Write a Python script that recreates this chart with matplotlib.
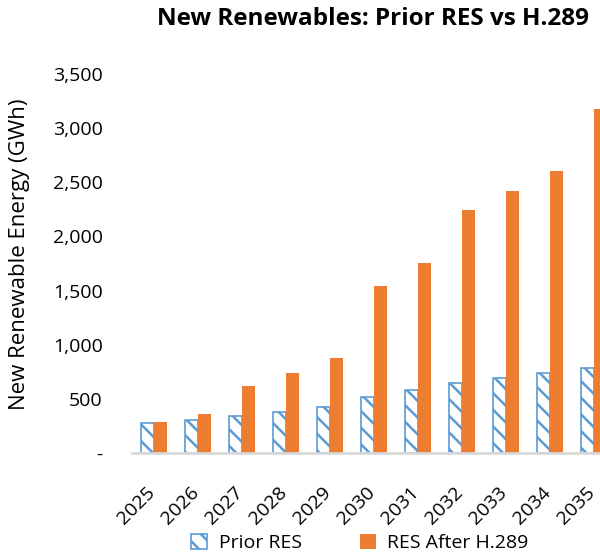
import matplotlib
matplotlib.use('Agg')
import matplotlib.pyplot as plt
import matplotlib.transforms as mtrans
import numpy as np
from matplotlib.ticker import FuncFormatter

years = ['2025', '2026', '2027', '2028', '2029', '2030',
         '2031', '2032', '2033', '2034', '2035']
prior_res = [273, 307, 338, 378, 421, 516, 580, 651, 697, 740, 786]
res_after = [285, 359, 617, 743, 875, 1545, 1755, 2241, 2422, 2603, 3177]

plt.rcParams['font.family'] = ['Open Sans', 'DejaVu Sans']
plt.rcParams['hatch.linewidth'] = 1.8
plt.rcParams['hatch.color'] = '#5b9bd5'

fig = plt.figure(figsize=(6.0, 5.54), dpi=100)
ax = fig.add_axes([0.22, 0.1823, 0.807, 0.684])

x = np.arange(len(years))
w = 0.29
ax.bar(x - w / 2, prior_res, w, facecolor='white', edgecolor='#5b9bd5',
       hatch='\\\\', linewidth=1.2, label='Prior RES')
ax.bar(x + w / 2, res_after, w, color='#ed7d31', label='RES After H.289')

ax.set_xlim(-0.5, len(years) - 0.5)
ax.set_ylim(0, 3500)
ax.set_yticks(range(0, 3501, 500))
ax.yaxis.set_major_formatter(FuncFormatter(lambda v, p: '-' if v == 0 else f'{int(v):,}'))

for s in ['top', 'right', 'left']:
    ax.spines[s].set_visible(False)
ax.spines['bottom'].set_color('#d9d9d9')
ax.spines['bottom'].set_linewidth(2)
ax.tick_params(axis='both', length=0, labelsize=14, colors='black')
ax.tick_params(axis='y', pad=21)
ax.set_xticks(x)
ax.set_xticklabels(years, rotation=45, ha='right', rotation_mode='anchor')
ax.tick_params(axis='x', pad=22)
shift = mtrans.ScaledTranslation(-0.08, 0, fig.dpi_scale_trans)
for lbl in ax.get_xticklabels():
    lbl.set_transform(lbl.get_transform() + shift)

fig.text(20 / 600, 0.5415, 'New Renewable Energy (GWh)', rotation=90,
         ha='center', va='center', fontsize=16)
fig.text(0.622, 0.965, 'New Renewables: Prior RES vs H.289', ha='center', va='center',
         fontsize=17.5, fontweight='bold')

fig.legend(loc='center', bbox_to_anchor=(0.6, 0.02), ncol=2, frameon=False,
           fontsize=14, handlelength=0.8, handleheight=0.8, columnspacing=3,
           handletextpad=0.6)

fig.savefig('out.png', dpi=100)
